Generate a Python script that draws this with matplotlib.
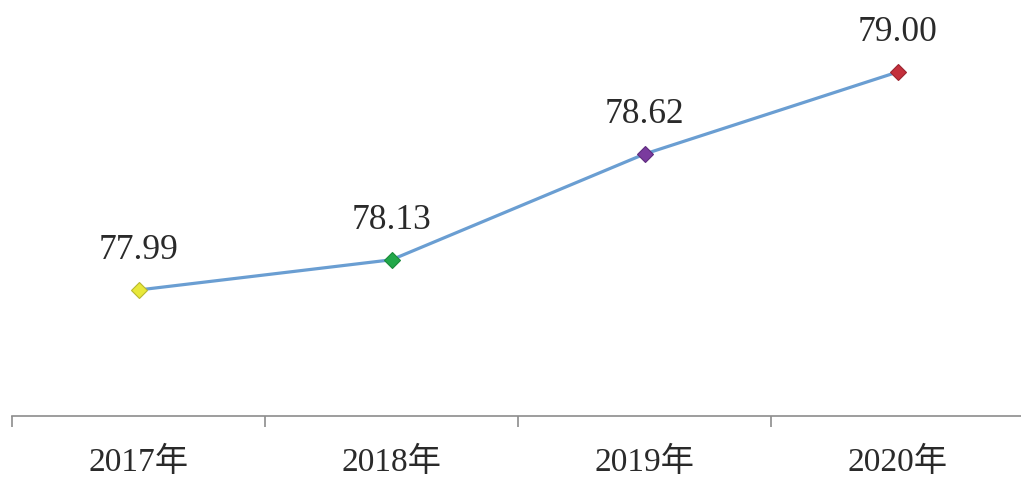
import numpy as np
import matplotlib
matplotlib.use('Agg')
import matplotlib.pyplot as plt

# data
years = ['2017年', '2018年', '2019年', '2020年']
values = [77.99, 78.13, 78.62, 79.00]
marker_colors = ['#E8E83A', '#22A84A', '#7A3B9E', '#C4303C']
marker_edges = ['#B8B830', '#1A8A3A', '#5E2C7E', '#9C2530']

fonts = ['Liberation Serif', 'Noto Sans CJK SC', 'DejaVu Sans']

fig = plt.figure(figsize=(10.21, 4.79), dpi=100)
ax = fig.add_axes([12/1021, 1 - 416/479, 1012/1021, 416/479])

x = np.arange(len(years))
ax.plot(x, values, color='#6A9ED2', linewidth=2.3, zorder=2)
for xi, v, c, ec in zip(x, values, marker_colors, marker_edges):
    ax.plot(xi, v, marker='D', markersize=8.5, color=c, markeredgecolor=ec,
            markeredgewidth=0.8, zorder=3)
    ax.annotate('%.2f' % v, (xi, v), xytext=(0, 22.5), textcoords='offset points',
                ha='center', va='baseline', fontsize=25.5, color='#2a2a2a',
                family=fonts)

ax.set_xlim(-0.5, 3.5)
ax.set_ylim(77.406, 79.334)

for s in ['top', 'right', 'left']:
    ax.spines[s].set_visible(False)
ax.spines['bottom'].set_color('#8C8C8C')
ax.spines['bottom'].set_linewidth(1.2)

ax.set_yticks([])
ax.set_xticks(x)
ax.set_xticklabels(years, family=fonts, fontsize=24, color='#2a2a2a')
ax.tick_params(axis='x', which='major', length=0, pad=22)
ax.set_xticks([-0.5, 0.5, 1.5, 2.5, 3.5], minor=True)
ax.tick_params(axis='x', which='minor', length=8, width=1.2, color='#8C8C8C')

fig.savefig('out.png', dpi=100)
